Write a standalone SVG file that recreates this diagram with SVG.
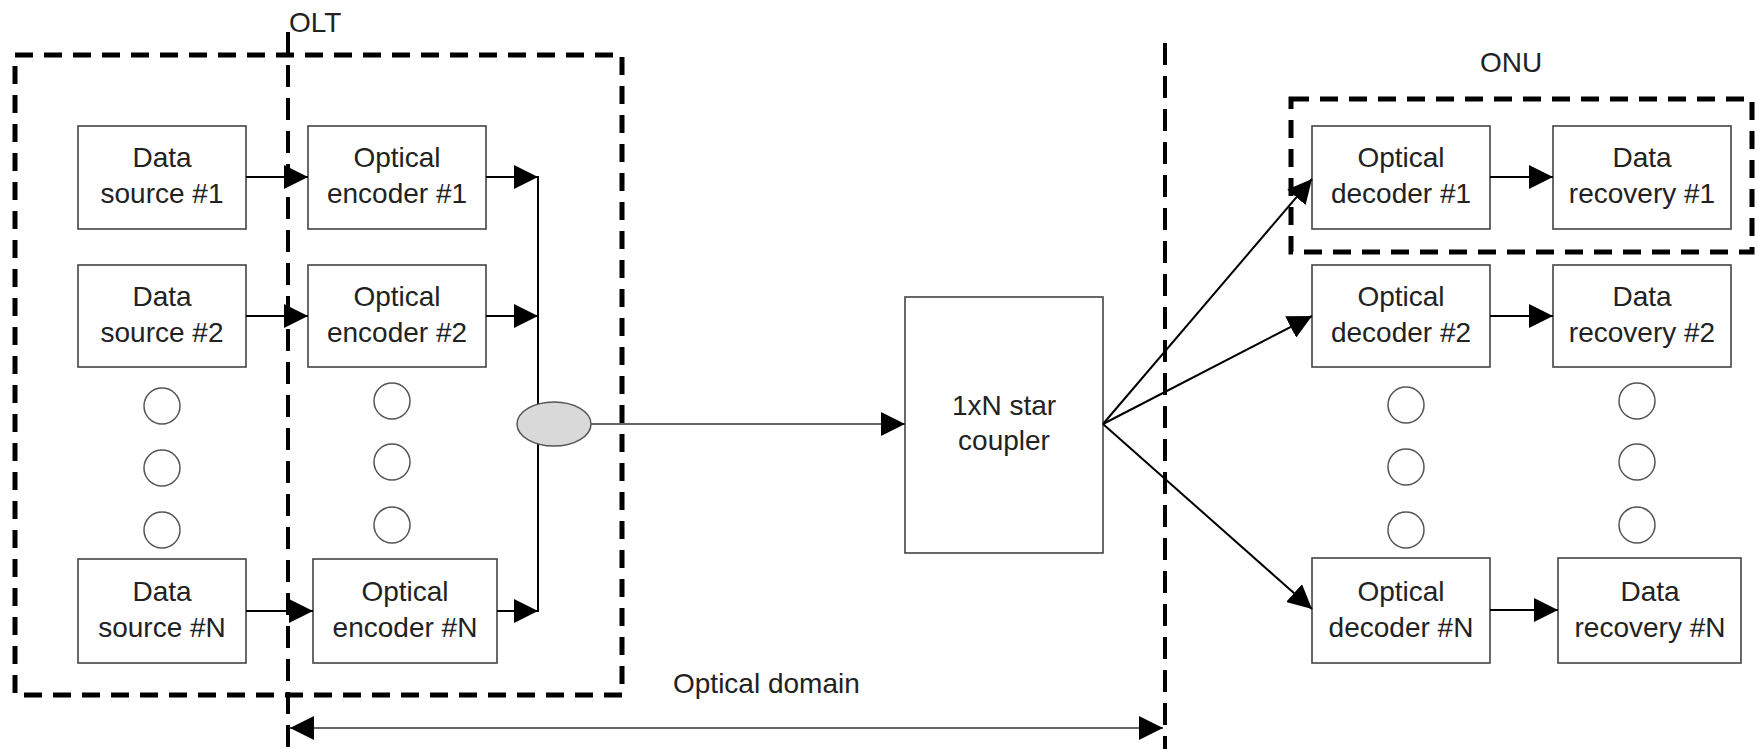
<svg xmlns="http://www.w3.org/2000/svg" width="1758" height="749" viewBox="0 0 1758 749">
  <style>
    .box { fill: #fff; stroke: #444; stroke-width: 1.6; }
    .lbl { font-family: "Liberation Sans", Arial, sans-serif; font-size: 28px; fill: #222; text-anchor: middle; }
    .title { font-family: "Liberation Sans", Arial, sans-serif; font-size: 28px; fill: #222; }
    .dot { fill: none; stroke: #555; stroke-width: 1.5; }
    .group { fill: none; stroke: #000; stroke-width: 5; stroke-dasharray: 18 11; }
    .border { fill: none; stroke: #000; stroke-width: 4; stroke-dasharray: 22 11; }
    .wire { fill: none; stroke: #000; stroke-width: 2; }
    .thin { fill: none; stroke: #333; stroke-width: 1.6; }
  </style>
  <defs>
    <marker id="arrow" markerUnits="userSpaceOnUse" markerWidth="24" markerHeight="24" refX="24" refY="12" orient="auto-start-reverse" viewBox="0 0 24 24">
      <path d="M0,0 L24,12 L0,24 z" fill="#000"/>
    </marker>
  </defs>

  <rect width="1758" height="749" fill="#fff"/>

  <!-- grouping frames and domain boundaries -->
  <g id="frames">
    <rect class="group" x="15" y="55" width="607" height="640"/>
    <rect class="group" x="1291" y="99" width="461" height="153"/>
    <line class="border" x1="288" y1="32" x2="288" y2="749"/>
    <line class="border" x1="1165" y1="43" x2="1165" y2="749"/>
    <text class="title" x="289" y="32">OLT</text>
    <text class="title" x="1480" y="72">ONU</text>
    <text class="title" x="673" y="693">Optical domain</text>
  </g>

  <!-- transmitter side -->
  <g id="source1">
    <rect class="box" x="78" y="126" width="168" height="103"/>
    <text class="lbl" x="162" y="167">Data</text>
    <text class="lbl" x="162" y="203">source #1</text>
  </g>
  <g id="source2">
    <rect class="box" x="78" y="265" width="168" height="102"/>
    <text class="lbl" x="162" y="306">Data</text>
    <text class="lbl" x="162" y="342">source #2</text>
  </g>
  <g id="sourceN">
    <rect class="box" x="78" y="559" width="168" height="104"/>
    <text class="lbl" x="162" y="601">Data</text>
    <text class="lbl" x="162" y="637">source #N</text>
  </g>
  <g id="encoder1">
    <rect class="box" x="308" y="126" width="178" height="103"/>
    <text class="lbl" x="397" y="167">Optical</text>
    <text class="lbl" x="397" y="203">encoder #1</text>
  </g>
  <g id="encoder2">
    <rect class="box" x="308" y="265" width="178" height="102"/>
    <text class="lbl" x="397" y="306">Optical</text>
    <text class="lbl" x="397" y="342">encoder #2</text>
  </g>
  <g id="encoderN">
    <rect class="box" x="313" y="559" width="184" height="104"/>
    <text class="lbl" x="405" y="601">Optical</text>
    <text class="lbl" x="405" y="637">encoder #N</text>
  </g>
  <g id="source-dots">
    <circle class="dot" cx="162" cy="406" r="18"/>
    <circle class="dot" cx="162" cy="468" r="18"/>
    <circle class="dot" cx="162" cy="530" r="18"/>
  </g>
  <g id="encoder-dots">
    <circle class="dot" cx="392" cy="401" r="18"/>
    <circle class="dot" cx="392" cy="462" r="18"/>
    <circle class="dot" cx="392" cy="525" r="18"/>
  </g>

  <!-- star coupler -->
  <g id="coupler">
    <rect class="box" x="905" y="297" width="198" height="256"/>
    <text class="lbl" x="1004" y="415">1xN star</text>
    <text class="lbl" x="1004" y="450">coupler</text>
  </g>

  <!-- receiver side -->
  <g id="decoder1">
    <rect class="box" x="1312" y="126" width="178" height="103"/>
    <text class="lbl" x="1401" y="167">Optical</text>
    <text class="lbl" x="1401" y="203">decoder #1</text>
  </g>
  <g id="decoder2">
    <rect class="box" x="1312" y="265" width="178" height="102"/>
    <text class="lbl" x="1401" y="306">Optical</text>
    <text class="lbl" x="1401" y="342">decoder #2</text>
  </g>
  <g id="decoderN">
    <rect class="box" x="1312" y="558" width="178" height="105"/>
    <text class="lbl" x="1401" y="601">Optical</text>
    <text class="lbl" x="1401" y="637">decoder #N</text>
  </g>
  <g id="recovery1">
    <rect class="box" x="1553" y="126" width="178" height="103"/>
    <text class="lbl" x="1642" y="167">Data</text>
    <text class="lbl" x="1642" y="203">recovery #1</text>
  </g>
  <g id="recovery2">
    <rect class="box" x="1553" y="265" width="178" height="102"/>
    <text class="lbl" x="1642" y="306">Data</text>
    <text class="lbl" x="1642" y="342">recovery #2</text>
  </g>
  <g id="recoveryN">
    <rect class="box" x="1558" y="558" width="183" height="105"/>
    <text class="lbl" x="1650" y="601">Data</text>
    <text class="lbl" x="1650" y="637">recovery #N</text>
  </g>
  <g id="decoder-dots">
    <circle class="dot" cx="1406" cy="405" r="18"/>
    <circle class="dot" cx="1406" cy="467" r="18"/>
    <circle class="dot" cx="1406" cy="530" r="18"/>
  </g>
  <g id="recovery-dots">
    <circle class="dot" cx="1637" cy="401" r="18"/>
    <circle class="dot" cx="1637" cy="462" r="18"/>
    <circle class="dot" cx="1637" cy="525" r="18"/>
  </g>

  <!-- connectors -->
  <g id="connectors">
    <line class="wire" x1="246" y1="177" x2="308" y2="177" marker-end="url(#arrow)"/>
    <line class="wire" x1="246" y1="316" x2="308" y2="316" marker-end="url(#arrow)"/>
    <line class="wire" x1="246" y1="611" x2="313" y2="611" marker-end="url(#arrow)"/>
    <line class="wire" x1="486" y1="177" x2="538" y2="177" marker-end="url(#arrow)"/>
    <line class="wire" x1="486" y1="316" x2="538" y2="316" marker-end="url(#arrow)"/>
    <line class="wire" x1="497" y1="611" x2="538" y2="611" marker-end="url(#arrow)"/>
    <line class="wire" x1="538" y1="176" x2="538" y2="612"/>
    <line class="thin" x1="591" y1="424" x2="905" y2="424" marker-end="url(#arrow)"/>
    <line class="wire" x1="1103" y1="424" x2="1312" y2="179" marker-end="url(#arrow)"/>
    <line class="wire" x1="1103" y1="424" x2="1312" y2="316" marker-end="url(#arrow)"/>
    <line class="wire" x1="1103" y1="424" x2="1312" y2="609" marker-end="url(#arrow)"/>
    <line class="wire" x1="1490" y1="177" x2="1553" y2="177" marker-end="url(#arrow)"/>
    <line class="wire" x1="1490" y1="316" x2="1553" y2="316" marker-end="url(#arrow)"/>
    <line class="wire" x1="1490" y1="610" x2="1558" y2="610" marker-end="url(#arrow)"/>
    <line class="thin" x1="290" y1="728" x2="1163" y2="728" marker-start="url(#arrow)" marker-end="url(#arrow)"/>
  </g>

  <!-- combiner -->
  <g id="combiner">
    <ellipse cx="554" cy="424" rx="37" ry="22" fill="#d9d9d9" stroke="#555" stroke-width="1.5"/>
  </g>
</svg>
